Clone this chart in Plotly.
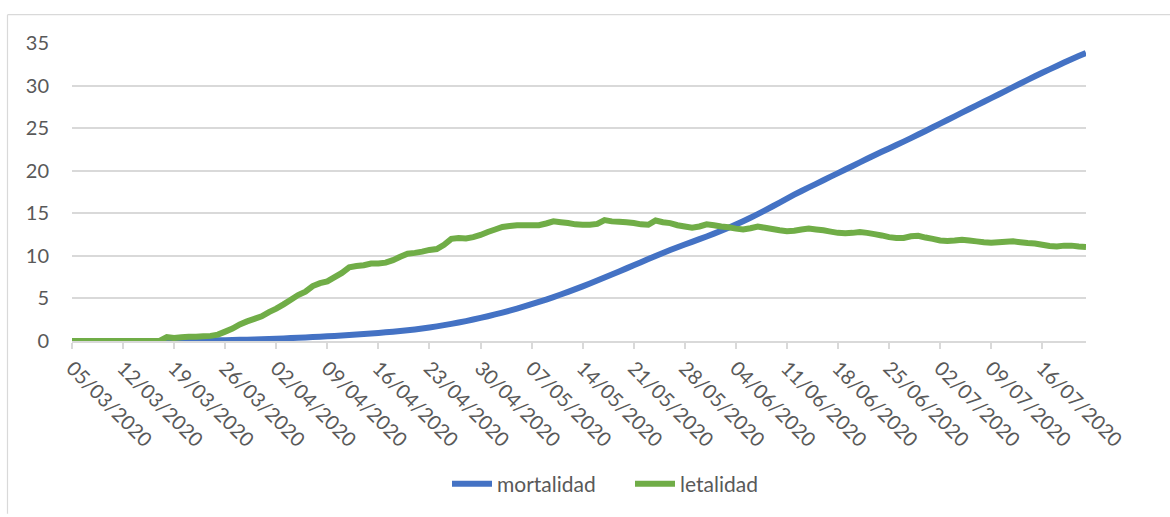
import pandas as pd
import plotly.graph_objects as go

# Daily series, 05/03/2020 - 22/07/2020
start_date = "2020-03-05"
end_date = "2020-07-22"

mortalidad = [
    0, 0, 0, 0, 0, 0, 0, 0, 0, 0,
    0, 0, 0, 0.01, 0.02, 0.03, 0.04, 0.05, 0.06, 0.07,
    0.09, 0.10, 0.12, 0.14, 0.16, 0.18, 0.21, 0.24, 0.27, 0.30,
    0.34, 0.38, 0.42, 0.46, 0.50, 0.55, 0.60, 0.65, 0.70, 0.76,
    0.82, 0.88, 0.95, 1.02, 1.09, 1.17, 1.26, 1.36, 1.47, 1.59,
    1.72, 1.86, 2.01, 2.17, 2.34, 2.52, 2.71, 2.91, 3.12, 3.34,
    3.57, 3.81, 4.06, 4.32, 4.59, 4.87, 5.16, 5.46, 5.77, 6.09,
    6.42, 6.76, 7.11, 7.46, 7.81, 8.17, 8.53, 8.89, 9.25, 9.62,
    9.99, 10.34, 10.68, 11.01, 11.33, 11.64, 11.96, 12.28, 12.61, 12.95,
    13.30, 13.67, 14.06, 14.47, 14.90, 15.35, 15.80, 16.26, 16.72, 17.18,
    17.62, 18.04, 18.46, 18.88, 19.30, 19.72, 20.14, 20.56, 20.98, 21.40,
    21.82, 22.22, 22.62, 23.02, 23.42, 23.83, 24.25, 24.67, 25.10, 25.53,
    25.96, 26.39, 26.82, 27.25, 27.68, 28.10, 28.52, 28.95, 29.38, 29.81,
    30.24, 30.67, 31.09, 31.50, 31.90, 32.30, 32.70, 33.08, 33.46, 33.84,
]

letalidad = [
    0, 0, 0, 0, 0, 0, 0, 0, 0, 0,
    0, 0, 0, 0.45, 0.35, 0.45, 0.50, 0.50, 0.55, 0.60,
    0.75, 1.10, 1.45, 1.95, 2.30, 2.60, 2.90, 3.40, 3.80, 4.30,
    4.85, 5.40, 5.80, 6.45, 6.80, 7.00, 7.50, 8.00, 8.65, 8.80,
    8.90, 9.10, 9.10, 9.20, 9.50, 9.90, 10.25, 10.35, 10.50, 10.70,
    10.80, 11.30, 12.00, 12.10, 12.05, 12.20, 12.45, 12.80, 13.10, 13.40,
    13.50, 13.60, 13.60, 13.60, 13.60, 13.80, 14.05, 13.95, 13.85, 13.70,
    13.65, 13.65, 13.75, 14.20, 14.05, 14.00, 13.95, 13.85, 13.70, 13.65,
    14.15, 13.95, 13.85, 13.60, 13.45, 13.30, 13.45, 13.70, 13.60, 13.45,
    13.35, 13.20, 13.10, 13.25, 13.45, 13.30, 13.15, 13.00, 12.90, 12.95,
    13.10, 13.20, 13.10, 13.00, 12.85, 12.70, 12.65, 12.70, 12.80, 12.70,
    12.55, 12.40, 12.20, 12.10, 12.10, 12.30, 12.35, 12.15, 12.00, 11.80,
    11.75, 11.80, 11.90, 11.80, 11.70, 11.60, 11.55, 11.60, 11.65, 11.70,
    11.60, 11.50, 11.45, 11.30, 11.15, 11.10, 11.20, 11.20, 11.10, 11.05,
]

fechas = pd.date_range(start_date, end_date, freq="D")

W, H = 1170, 517
M_L, M_R, M_T, M_B = 72, 84, 43, 174
plot_w = W - M_L - M_R
plot_h = H - M_T - M_B

AXIS_GRAY = "#d9d9d9"
TEXT_GRAY = "#595959"
FONT = "Lato, 'Open Sans', sans-serif"

fig = go.Figure()
fig.add_trace(go.Scatter(
    x=fechas, y=mortalidad, name="mortalidad", mode="lines",
    line=dict(color="#4472C4", width=6, shape="linear", simplify=False),
))
fig.add_trace(go.Scatter(
    x=fechas, y=letalidad, name="letalidad", mode="lines",
    line=dict(color="#70AD47", width=6, shape="linear", simplify=False),
))


def px_to_paper_x(px):
    return (px - M_L) / plot_w


def px_to_paper_y(py):
    return (H - M_B - py) / plot_h


# chart-area frame (left and top edges)
frame_l, frame_t = 7.5, 14.5
fig.add_shape(type="line", xref="paper", yref="paper",
              x0=px_to_paper_x(frame_l), x1=px_to_paper_x(W),
              y0=px_to_paper_y(frame_t), y1=px_to_paper_y(frame_t),
              line=dict(color=AXIS_GRAY, width=1.2))
fig.add_shape(type="line", xref="paper", yref="paper",
              x0=px_to_paper_x(frame_l), x1=px_to_paper_x(frame_l),
              y0=px_to_paper_y(frame_t), y1=px_to_paper_y(H),
              line=dict(color=AXIS_GRAY, width=1.2))

fig.update_layout(
    width=W, height=H,
    margin=dict(l=M_L, r=M_R, t=M_T, b=M_B, pad=0),
    paper_bgcolor="white", plot_bgcolor="white",
    font=dict(family=FONT, color=TEXT_GRAY, size=20),
    showlegend=True,
    legend=dict(orientation="h", x=px_to_paper_x(447), xanchor="left",
                y=px_to_paper_y(487), yanchor="middle",
                font=dict(size=21, color=TEXT_GRAY),
                itemwidth=40, entrywidth=128, entrywidthmode="pixels",
                bgcolor="rgba(0,0,0,0)"),
    xaxis=dict(
        type="date",
        range=[start_date, end_date],
        tick0=start_date, dtick=7 * 24 * 3600 * 1000,
        tickformat="%d/%m/%Y", tickangle=45,
        showgrid=False, showline=True, linecolor=AXIS_GRAY, linewidth=1.5,
        ticks="outside", ticklen=6, tickcolor=AXIS_GRAY, tickwidth=1.5,
        tickfont=dict(size=20, color=TEXT_GRAY),
        zeroline=False,
    ),
    yaxis=dict(
        range=[0, 35], dtick=5, tick0=0,
        showgrid=True, gridcolor=AXIS_GRAY, gridwidth=1.5,
        showline=False, zeroline=False, ticks="",
        tickfont=dict(size=20, color=TEXT_GRAY),
        ticklabelstandoff=22,
    ),
)

fig.write_html("out.html")
